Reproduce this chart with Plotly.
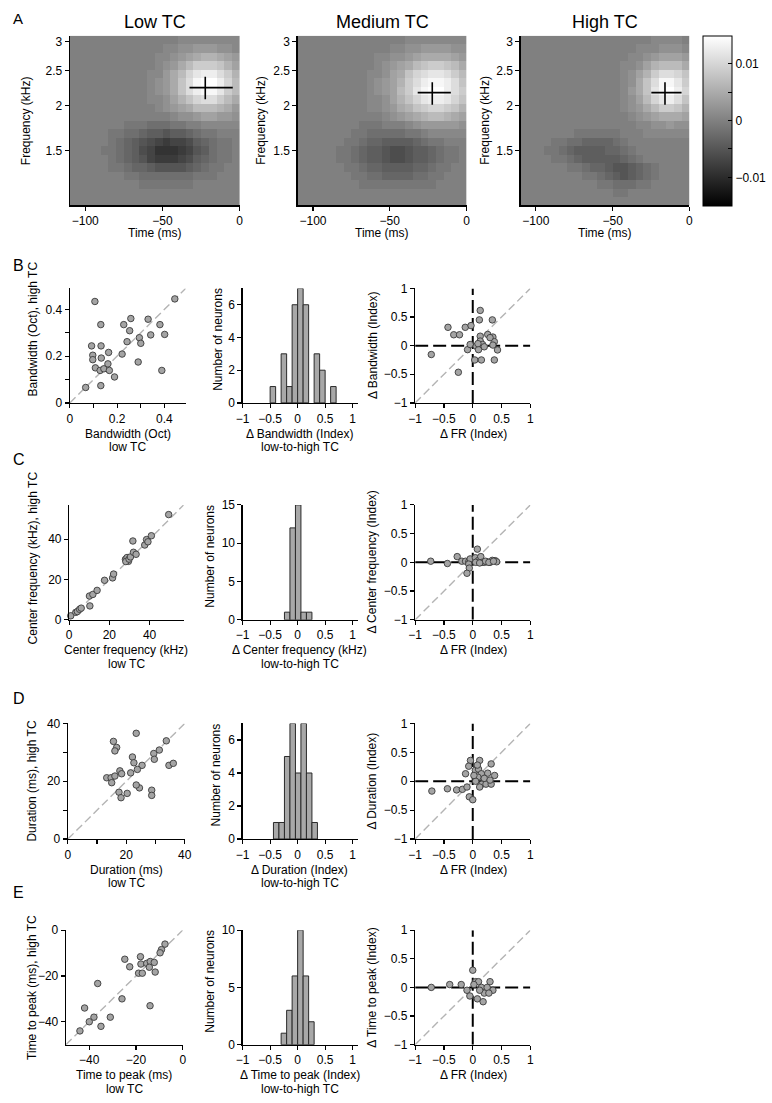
import numpy as np
import plotly.graph_objects as go

W, H = 772, 1103
FONT = "Arial, Liberation Sans, Helvetica, sans-serif"

# ---------------- Panel A : STRFs ----------------
strf_time_ms = [-107.5, -102.5, -97.5, -92.5, -87.5, -82.5, -77.5, -72.5, -67.5, -62.5, -57.5,
                -52.5, -47.5, -42.5, -37.5, -32.5, -27.5, -22.5, -17.5, -12.5, -7.5, -2.5]
strf_freq_khz = [1.090, 1.150, 1.214, 1.281, 1.352, 1.427, 1.506, 1.589, 1.677, 1.770,
                 1.868, 1.971, 2.080, 2.195, 2.317, 2.445, 2.581, 2.723, 2.874, 3.033]
Z0 = [0] * 22
# weights in units of 1e-3, rows: low -> high frequency, columns: time
strf_low = [
    Z0, Z0,
    [0,0,0,0,0,0,0,0,0,-1,-1,-1,-1,-1,-1,-1,0,0,0,0,0,0],
    [0,0,0,0,0,0,0,-1,-1,-2,-2,-2,-2,-2,-2,-2,-1,-1,-1,0,0,0],
    [0,0,0,0,0,-1,-1,-2,-3,-3,-4,-5,-5,-5,-5,-4,-3,-2,-1,-1,0,0],
    [0,0,0,0,0,-1,-2,-3,-4,-5,-7,-8,-8,-8,-7,-6,-4,-3,-2,-1,-1,0],
    [0,0,0,0,-1,-1,-2,-3,-4,-6,-7,-9,-9,-9,-8,-7,-5,-4,-2,-1,-1,0],
    [0,0,0,0,0,-1,-2,-3,-4,-5,-6,-7,-8,-7,-7,-6,-4,-3,-2,-1,-1,0],
    [0,0,0,0,0,-1,-1,-2,-2,-3,-4,-4,-5,-4,-4,-3,-2,-1,-1,0,0,0],
    [0,0,0,0,0,0,0,-1,-1,-1,-2,-2,-2,-1,-1,0,0,1,1,1,1,1],
    [0,0,0,0,0,0,0,0,0,0,0,0,0,1,2,2,3,4,4,3,3,2],
    [0,0,0,0,0,0,0,0,0,0,0,1,2,3,4,5,7,7,7,6,5,3],
    [0,0,0,0,0,0,0,0,0,0,1,1,2,4,6,8,10,11,11,9,7,5],
    [0,0,0,0,0,0,0,0,0,0,1,2,3,5,8,11,13,14,14,12,9,7],
    [0,0,0,0,0,0,0,0,0,0,1,2,3,5,8,11,14,15,15,13,10,7],
    [0,0,0,0,0,0,0,0,0,0,1,1,3,5,7,10,12,13,13,11,9,6],
    [0,0,0,0,0,0,0,0,0,0,0,1,2,3,5,7,9,9,9,8,6,4],
    [0,0,0,0,0,0,0,0,0,0,0,1,1,2,3,4,5,6,6,5,4,3],
    [0,0,0,0,0,0,0,0,0,0,0,0,1,1,2,2,3,3,3,2,2,1],
    [0,0,0,0,0,0,0,0,0,0,0,0,0,0,1,1,1,1,1,1,1,1],
]
strf_med = [
    Z0, Z0,
    [0,0,0,0,0,0,0,0,-1,-1,-1,-1,-1,-1,-1,-1,-1,-1,0,0,0,0],
    [0,0,0,0,0,0,0,-1,-1,-2,-2,-3,-3,-3,-3,-2,-2,-1,-1,0,0,0],
    [0,0,0,0,0,0,-1,-1,-2,-3,-3,-4,-4,-4,-4,-3,-3,-2,-1,-1,0,0],
    [0,0,0,0,0,-1,-1,-2,-3,-4,-4,-5,-6,-6,-5,-4,-4,-3,-2,-1,-1,0],
    [0,0,0,0,0,-1,-1,-2,-3,-4,-4,-5,-6,-6,-5,-4,-4,-3,-2,-1,-1,0],
    [0,0,0,0,0,0,-1,-1,-2,-3,-3,-4,-4,-4,-4,-3,-2,-1,-1,0,0,0],
    [0,0,0,0,0,0,0,-1,-1,-2,-2,-2,-2,-2,-1,-1,0,1,1,1,1,1],
    [0,0,0,0,0,0,0,0,-1,-1,-1,0,0,0,1,2,3,3,3,3,3,2],
    [0,0,0,0,0,0,0,0,0,0,0,1,2,3,4,5,6,7,7,6,5,4],
    [0,0,0,0,0,0,0,0,0,1,1,2,3,5,6,8,9,10,10,9,8,6],
    [0,0,0,0,0,0,0,0,0,1,1,2,4,6,8,10,12,13,13,12,10,8],
    [0,0,0,0,0,0,0,0,0,1,2,3,4,7,9,12,14,15,15,13,11,9],
    [0,0,0,0,0,0,0,0,0,1,2,3,4,6,9,11,13,14,14,13,11,8],
    [0,0,0,0,0,0,0,0,0,1,1,2,4,5,8,10,11,12,12,11,9,7],
    [0,0,0,0,0,0,0,0,0,0,1,2,3,4,5,7,8,9,9,8,7,5],
    [0,0,0,0,0,0,0,0,0,0,1,1,2,2,3,4,5,5,5,5,4,3],
    [0,0,0,0,0,0,0,0,0,0,0,0,1,1,2,2,3,3,3,3,2,2],
    [0,0,0,0,0,0,0,0,0,0,0,0,0,0,1,1,1,1,1,1,1,1],
]
strf_high = [
    Z0,
    [0,0,0,0,0,0,0,0,0,0,0,0,-1,-1,0,0,0,0,0,0,0,0],
    [0,0,0,0,0,0,0,0,0,0,-1,-1,-2,-2,-2,-1,-1,0,0,0,0,0],
    [0,0,0,0,0,0,0,0,-1,-1,-2,-3,-4,-5,-4,-3,-2,-1,0,0,0,0],
    [0,0,0,0,0,0,-1,-1,-2,-3,-3,-4,-5,-5,-4,-3,-2,-1,0,0,0,0],
    [0,0,0,0,-1,-1,-2,-3,-4,-4,-4,-4,-4,-3,-2,-1,0,0,0,0,0,0],
    [0,0,0,-1,-1,-2,-3,-4,-4,-4,-4,-3,-3,-2,-1,0,0,0,0,0,0,0],
    [0,0,0,0,-1,-1,-2,-2,-3,-3,-3,-3,-2,-1,0,0,0,0,0,0,0,0],
    [0,0,0,0,0,0,0,-1,-1,-1,-1,-1,-1,0,0,0,1,1,1,1,1,1],
    [0,0,0,0,0,0,0,0,0,0,0,0,0,0,0,1,1,2,2,3,2,2],
    [0,0,0,0,0,0,0,0,0,0,0,0,0,0,1,2,3,4,5,5,5,4],
    [0,0,0,0,0,0,0,0,0,0,0,0,0,1,2,3,5,7,9,9,8,6],
    [0,0,0,0,0,0,0,0,0,0,0,0,0,1,2,4,7,10,12,13,11,8],
    [0,0,0,0,0,0,0,0,0,0,0,0,0,1,3,5,8,12,14,15,13,10],
    [0,0,0,0,0,0,0,0,0,0,0,0,0,1,2,5,8,11,14,14,12,9],
    [0,0,0,0,0,0,0,0,0,0,0,0,0,1,2,4,6,9,11,11,10,8],
    [0,0,0,0,0,0,0,0,0,0,0,0,0,1,1,2,4,6,7,7,7,5],
    [0,0,0,0,0,0,0,0,0,0,0,0,0,0,1,1,2,3,4,4,4,3],
    [0,0,0,0,0,0,0,0,0,0,0,0,0,0,0,1,1,1,2,2,2,1],
    [0,0,0,0,0,0,0,0,0,0,0,0,0,0,0,0,0,1,1,1,1,0],
]
# crosses: time extent / peak (ms), frequency extent / peak (kHz)
cross_low_t, cross_low_tpk, cross_low_f, cross_low_fpk = [-32.5, -4.5], -22.3, [2.08, 2.40], 2.24
cross_med_t, cross_med_tpk, cross_med_f, cross_med_fpk = [-31.8, -10.2], -22.3, [2.01, 2.32], 2.17
cross_high_t, cross_high_tpk, cross_high_f, cross_high_fpk = [-24.8, -5.1], -15.9, [2.01, 2.32], 2.17

# ---------------- Panel B : bandwidth ----------------
bw_low = [0.067, 0.106, 0.092, 0.097, 0.097, 0.131, 0.132, 0.133, 0.108, 0.128, 0.144, 0.161, 0.164,
          0.167, 0.131, 0.189, 0.221, 0.228, 0.242, 0.253, 0.258, 0.289, 0.294, 0.300, 0.331, 0.342,
          0.381, 0.389, 0.401, 0.444]
bw_high = [0.066, 0.434, 0.244, 0.204, 0.185, 0.335, 0.244, 0.192, 0.150, 0.139, 0.146, 0.167, 0.216,
           0.139, 0.074, 0.111, 0.209, 0.335, 0.262, 0.309, 0.361, 0.175, 0.279, 0.255, 0.358, 0.291,
           0.335, 0.139, 0.293, 0.445]
bw_hist_centers = [-0.45, -0.25, -0.15, -0.05, 0.05, 0.15, 0.35, 0.45, 0.65]
bw_hist_counts = [1, 3, 1, 6, 7, 6, 3, 2, 1]
bw_dfr = [-0.72, -0.43, -0.25, -0.33, -0.23, -0.13, -0.03, -0.09, -0.045, 0.13, 0.115, 0.13, 0.13,
          0.06, 0.10, 0.035, 0.15, 0.17, 0.20, 0.26, 0.34, 0.35, 0.375, 0.35, 0.375, 0.43, 0.30, 0.09]
bw_didx = [-0.155, 0.32, -0.465, 0.19, 0.19, 0.32, 0.35, -0.07, 0.02, 0.615, 0.45, 0.165, 0.08,
           -0.01, -0.07, -0.25, -0.25, 0.02, -0.02, 0.195, 0.45, 0.15, 0.07, 0.01, -0.25, -0.075, 0.14, 0.035]

# ---------------- Panel C : center frequency ----------------
cf_low = [0.8, 3.3, 4.1, 5.2, 6.0, 10.3, 10.1, 11.8, 13.9, 17.6, 21.6, 22.1, 28.0, 28.8, 29.5, 28.2,
          29.8, 30.5, 32.0, 33.3, 31.7, 37.6, 38.5, 39.2, 40.9, 49.5]
cf_high = [2.0, 3.7, 4.1, 5.2, 5.8, 6.9, 11.8, 12.6, 14.6, 19.6, 20.8, 22.7, 30.0, 30.9, 29.0, 28.9,
           30.1, 31.2, 33.5, 32.5, 39.1, 37.1, 39.8, 38.7, 41.7, 52.2]
cf_hist_centers = [-0.19, -0.09, 0.01, 0.11, 0.21]
cf_hist_counts = [1, 12, 15, 1, 1]
cf_dfr = [-0.73, -0.44, -0.27, -0.19, -0.125, -0.07, -0.045, -0.07, -0.06, -0.10, 0.045, 0.08, 0.10,
          0.14, 0.16, 0.20, 0.245, 0.30, 0.34, 0.39, 0.415, 0.05, 0.22, 0.12, 0.28, 0.36]
cf_didx = [0.02, -0.02, 0.10, 0.02, 0.02, 0.01, 0.06, -0.03, -0.10, -0.19, 0.08, 0.23, 0.035, 0.10,
           0.0, 0.0, 0.01, 0.0, 0.035, 0.03, 0.01, 0.0, 0.02, -0.01, 0.0, 0.02]

# ---------------- Panel D : duration ----------------
dur_low = [23.4, 15.6, 16.7, 16.1, 33.7, 31.3, 29.4, 22.1, 22.6, 25.4, 23.8, 34.6, 36.1, 17.8, 18.4,
           21.5, 13.3, 14.8, 16.1, 15.0, 29.6, 17.5, 18.2, 20.3, 24.5, 28.7, 28.7, 23.4]
dur_high = [36.6, 33.8, 31.7, 30.5, 34.0, 30.8, 29.6, 28.4, 26.4, 25.5, 24.1, 25.5, 26.2, 23.6, 22.6,
            22.9, 21.2, 21.2, 21.8, 19.5, 27.6, 16.2, 14.3, 15.8, 17.7, 16.9, 15.1, 18.7]
dur_hist_centers = [-0.39, -0.29, -0.19, -0.09, 0.01, 0.11, 0.21, 0.31]
dur_hist_counts = [1, 1, 5, 7, 4, 7, 4, 1]
dur_dfr = [-0.71, -0.44, -0.28, -0.18, -0.10, -0.06, 0.0, -0.04, 0.12, 0.32, -0.125, -0.07, 0.045,
           0.10, 0.15, 0.09, 0.26, 0.38, 0.16, 0.23, 0.32, 0.05, 0.12, 0.20, 0.30, 0.08, 0.02]
dur_didx = [-0.17, -0.13, -0.15, -0.14, -0.10, -0.27, -0.32, 0.36, 0.36, 0.30, 0.13, 0.26, 0.19,
            0.21, 0.13, 0.07, 0.14, 0.10, -0.05, -0.05, -0.05, 0.0, -0.10, 0.05, 0.02, 0.28, 0.10]

# ---------------- Panel E : time to peak ----------------
ttp_low = [-7.6, -9.1, -9.7, -24.8, -18.1, -22.7, -17.9, -15.4, -13.9, -12.2, -14.3, -18.9, -17.3,
           -11.8, -36.4, -42.0, -40.0, -38.0, -35.0, -44.0, -31.0, -26.0, -14.0]
ttp_high = [-6.1, -8.5, -9.9, -12.7, -11.6, -16.0, -14.8, -14.5, -13.7, -14.1, -16.2, -18.8, -18.8,
            -18.3, -23.3, -34.0, -40.0, -38.0, -42.0, -44.0, -38.0, -30.0, -33.0]
ttp_hist_centers = [-0.25, -0.15, -0.05, 0.05, 0.15, 0.25]
ttp_hist_counts = [1, 3, 6, 10, 6, 2]
ttp_dfr = [-0.72, -0.40, -0.20, -0.10, 0.0, 0.05, 0.10, 0.15, 0.20, 0.30, 0.35, -0.05, 0.08, 0.12,
           0.25, 0.02, 0.18, 0.28]
ttp_didx = [0.0, 0.05, 0.05, -0.05, 0.30, 0.10, 0.10, 0.0, -0.10, 0.10, -0.05, -0.15, -0.20, -0.05,
            0.0, 0.05, -0.25, -0.10]

# ======================================================================
fig = go.Figure()
layout = {}
n_ax = [0]


def new_axes(x0, x1, y0, y1, xr, yr, xtv=None, xtt=None, ytv=None, ytt=None, xticks='outside'):
    n_ax[0] += 1
    s = '' if n_ax[0] == 1 else str(n_ax[0])
    common = dict(showline=True, linecolor='black', linewidth=1.2, ticklen=4, tickwidth=1.2,
                  tickcolor='black', showgrid=False, zeroline=False, fixedrange=True,
                  tickfont=dict(family=FONT, size=12, color='black'))
    layout['xaxis' + s] = dict(domain=[x0 / W, x1 / W], anchor='y' + s, range=xr, ticks=xticks,
                               tickmode='array', tickvals=xtv, ticktext=xtt, **common)
    layout['yaxis' + s] = dict(domain=[1 - y1 / H, 1 - y0 / H], anchor='x' + s, range=yr, ticks='outside',
                               tickmode='array', tickvals=ytv, ticktext=ytt, **common)
    return 'x' + s, 'y' + s


def txt(s, x, y, size=12, angle=0, xanchor='center', yanchor='middle'):
    fig.add_annotation(text=s, x=x / W, y=1 - y / H, xref='paper', yref='paper', showarrow=False,
                       font=dict(family=FONT, size=size, color='black'), textangle=angle,
                       xanchor=xanchor, yanchor=yanchor)


MINUS = '\u2212'
# ---------------- Row A ----------------
ylog = np.log2(np.array(strf_freq_khz))
a_panels = [
    (64, 237, 'Low TC', strf_low, cross_low_t, cross_low_tpk, cross_low_f, cross_low_fpk, 19),
    (296, 468, 'Medium TC', strf_med, cross_med_t, cross_med_tpk, cross_med_f, cross_med_fpk, 258),
    (523, 695, 'High TC', strf_high, cross_high_t, cross_high_tpk, cross_high_f, cross_high_fpk, 486),
]
freq_ticks = [1.5, 2, 2.5, 3]
for i, (x0, x1, title, mat, ct, ctp, cf, cfp, ylabx) in enumerate(a_panels):
    xa, ya = new_axes(x0, x1, 29, 201, [-110, 0], [0.085, 1.64],
                      [-100, -50, 0], [MINUS + '100', MINUS + '50', '0'],
                      list(np.log2(freq_ticks)), ['1.5', '2', '2.5', '3'])
    z = np.array(mat, dtype=float) * 1e-3
    hm = dict(z=z, x=strf_time_ms, y=ylog, xaxis=xa, yaxis=ya, zmin=-0.015, zmax=0.015,
              colorscale=[[0, 'black'], [1, 'white']], zsmooth=False, hoverinfo='skip')
    if i == 0:
        hm['colorbar'] = dict(x=709 / W, xanchor='left', y=1 - 29 / H, yanchor='top', len=172 / H,
                              lenmode='fraction', thickness=29, thicknessmode='pixels', xpad=0, ypad=0,
                              outlinewidth=1, outlinecolor='black',
                              tickvals=[-0.01, -0.005, 0, 0.005, 0.01],
                              ticktext=[MINUS + '0.01', '', '0', '', '0.01'], ticks='inside', ticklen=4,
                              tickcolor='black', tickfont=dict(family=FONT, size=12, color='black'))
        hm['showscale'] = True
    else:
        hm['showscale'] = False
    fig.add_trace(go.Heatmap(**hm))
    fig.add_trace(go.Scatter(x=ct, y=[np.log2(cfp)] * 2, mode='lines', line=dict(color='black', width=1.6),
                             xaxis=xa, yaxis=ya, hoverinfo='skip'))
    fig.add_trace(go.Scatter(x=[ctp] * 2, y=list(np.log2(cf)), mode='lines',
                             line=dict(color='black', width=1.6), xaxis=xa, yaxis=ya, hoverinfo='skip'))
    txt(title, (x0 + x1) / 2, 15, size=18)
    txt('Time (ms)', (x0 + x1) / 2, 229, size=12)
    txt('Frequency (kHz)', ylabx, 115, size=12, angle=-90)
txt('A', 4, 12, size=15, xanchor='left')

# ---------------- Rows B-E ----------------
MK = dict(size=6.5, color='#a4a4a4', line=dict(color='#3a3a3a', width=0.9))
DIAG = dict(color='#b4b4b4', width=1.4, dash='8px,4px')
ZL = dict(color='black', width=2, dash='13px,5px')
IDX_T = [-1, -0.5, 0, 0.5, 1]
IDX_TT = [MINUS + '1', MINUS + '0.5', '0', '0.5', '1']

rows = [
    dict(letter='B', ly=262, top=285, bot=401,
         sx=(64, 182), srange=[0, 0.49], stv=[0, 0.1, 0.2, 0.3, 0.4], stt=['0', '', '0.2', '', '0.4'],
         slow=bw_low, shigh=bw_high, sy_label='Bandwidth (Oct), high TC', sy_lab_y=326,
         sx_label='Bandwidth (Oct)',
         hrange=[0, 7], htv=[0, 2, 4, 6], hc=bw_hist_centers, hn=bw_hist_counts,
         hx_label=u'\u0394 Bandwidth (Index)', hylab_x=215,
         rdfr=bw_dfr, ridx=bw_didx, ry_label=u'\u0394 Bandwidth (Index)'),
    dict(letter='C', ly=458, top=504.3, bot=620.7,
         sx=(63.3, 180), srange=[0, 57], stv=[0, 20, 40], stt=['0', '20', '40'],
         slow=cf_low, shigh=cf_high, sy_label='Center frequency (kHz), high TC', sy_lab_y=558,
         sx_label='Center frequency (kHz)',
         hrange=[0, 15], htv=[0, 5, 10, 15], hc=cf_hist_centers, hn=cf_hist_counts,
         hx_label=u'\u0394 Center frequency (kHz)', hylab_x=207,
         rdfr=cf_dfr, ridx=cf_didx, ry_label=u'\u0394 Center frequency (Index)'),
    dict(letter='D', ly=700, top=725.7, bot=842.7,
         sx=(62, 181), srange=[0, 40], stv=[0, 10, 20, 30, 40], stt=['0', '', '20', '', '40'],
         slow=dur_low, shigh=dur_high, sy_label='Duration (ms), high TC', sy_lab_y=784,
         sx_label='Duration (ms)',
         hrange=[0, 7], htv=[0, 2, 4, 6], hc=dur_hist_centers, hn=dur_hist_counts,
         hx_label=u'\u0394 Duration (Index)', hylab_x=213,
         rdfr=dur_dfr, ridx=dur_didx, ry_label=u'\u0394 Duration (Index)'),
    dict(letter='E', ly=897, top=935, bot=1051,
         sx=(60, 179), srange=[-50, 0], stv=[-40, -20, 0], stt=[MINUS + '40', MINUS + '20', '0'],
         slow=ttp_low, shigh=ttp_high, sy_label='Time to peak (ms), high TC', sy_lab_y=993,
         sx_label='Time to peak (ms)',
         hrange=[0, 10], htv=[0, 5, 10], hc=ttp_hist_centers, hn=ttp_hist_counts,
         hx_label=u'\u0394 Time to peak (Index)', hylab_x=207,
         rdfr=ttp_dfr, ridx=ttp_didx, ry_label=u'\u0394 Time to peak (Index)'),
]

for r in rows:
    top, bot = r['top'], r['bot']
    mid = (top + bot) / 2
    txt(r['letter'], 4, r['ly'], size=16, xanchor='left')
    sx0, sx1 = r['sx']
    xa, ya = new_axes(sx0, sx1, top, bot, r['srange'], r['srange'], r['stv'], r['stt'], r['stv'], r['stt'])
    fig.add_trace(go.Scatter(x=r['srange'], y=r['srange'], mode='lines', line=DIAG, xaxis=xa, yaxis=ya,
                             hoverinfo='skip'))
    fig.add_trace(go.Scatter(x=r['slow'], y=r['shigh'], mode='markers', marker=MK, xaxis=xa, yaxis=ya,
                             cliponaxis=False))
    txt(r['sy_label'], 26, r['sy_lab_y'], angle=-90)
    txt(r['sx_label'], (sx0 + sx1) / 2, bot + 31)
    txt('low TC', (sx0 + sx1) / 2, bot + 45)
    xa, ya = new_axes(240, 357.6, top, bot, [-1, 1.1], r['hrange'], IDX_T, IDX_TT, r['htv'],
                      [str(v) for v in r['htv']])
    fig.add_trace(go.Bar(x=r['hc'], y=r['hn'], width=0.1, marker=dict(color='#a8a8a8',
                         line=dict(color='#2a2a2a', width=1)), xaxis=xa, yaxis=ya))
    txt('Number of neurons', r['hylab_x'], mid - 6, angle=-90)
    txt(r['hx_label'], 298, bot + 31)
    txt('low-to-high TC', 298, bot + 45)
    xa, ya = new_axes(415.7, 533, top, bot, [-1, 1], [-1, 1], IDX_T, IDX_TT, IDX_T, IDX_TT)
    fig.add_trace(go.Scatter(x=[-1, 1], y=[-1, 1], mode='lines', line=DIAG, xaxis=xa, yaxis=ya,
                             hoverinfo='skip'))
    fig.add_trace(go.Scatter(x=[-1, 1], y=[0, 0], mode='lines', line=ZL, xaxis=xa, yaxis=ya,
                             hoverinfo='skip'))
    fig.add_trace(go.Scatter(x=[0, 0], y=[-1, 1], mode='lines', line=ZL, xaxis=xa, yaxis=ya,
                             hoverinfo='skip'))
    fig.add_trace(go.Scatter(x=r['rdfr'], y=r['ridx'], mode='markers', marker=MK, xaxis=xa, yaxis=ya,
                             cliponaxis=False))
    txt(r['ry_label'], 372, mid, angle=-90)
    txt(u'\u0394 FR (Index)', 475, bot + 31)

layout.update(dict(width=W, height=H, margin=dict(l=0, r=0, t=0, b=0), showlegend=False,
                   plot_bgcolor='white', paper_bgcolor='white', bargap=0,
                   font=dict(family=FONT, size=12, color='black')))
fig.update_layout(**layout)
fig.write_html("out.html", config={'displayModeBar': False, 'staticPlot': True},
               post_script="document.body.style.margin='0';document.body.style.padding='0';"
                           "document.body.style.overflow='hidden';")
